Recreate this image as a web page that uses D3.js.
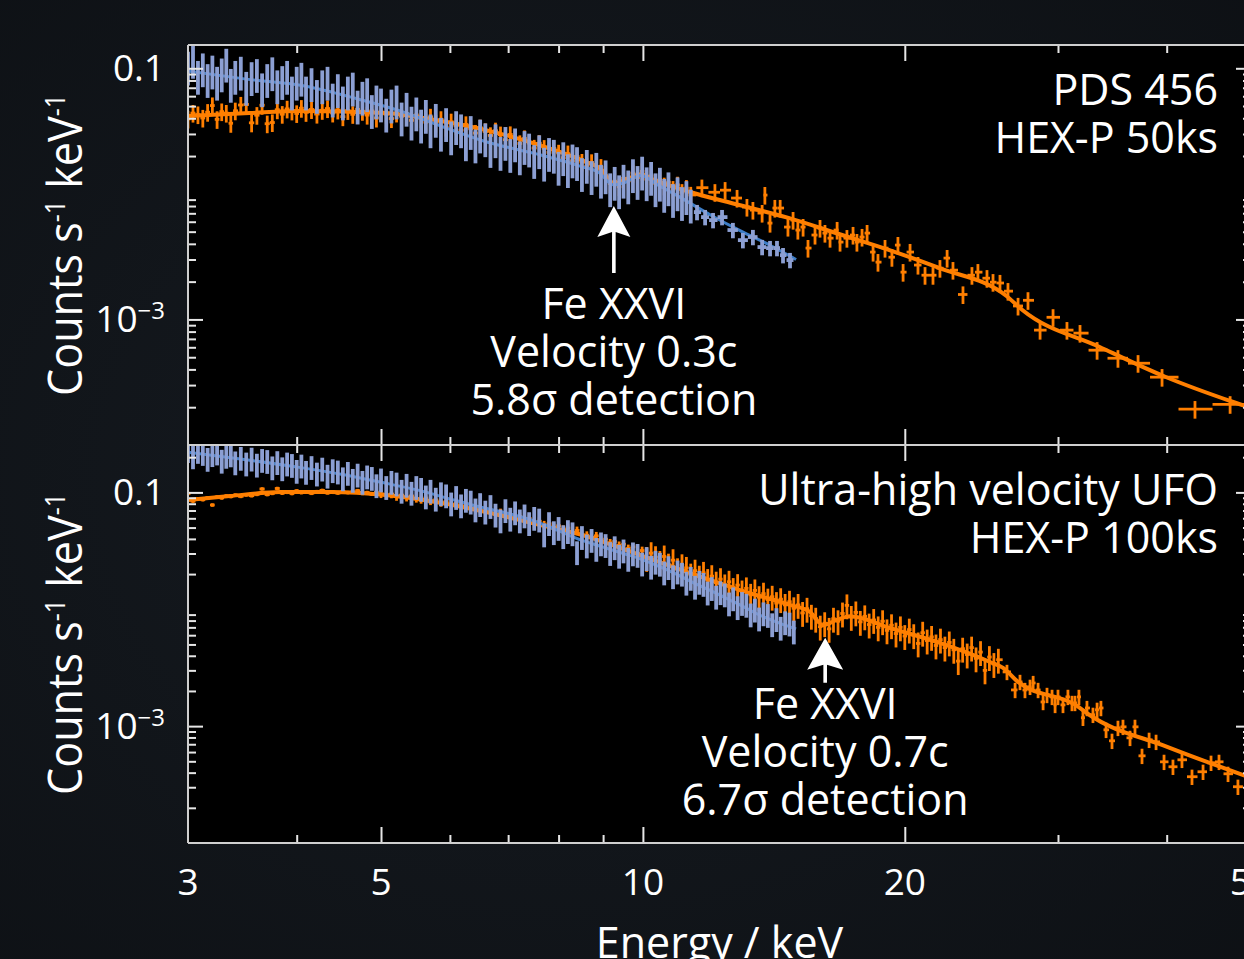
<!DOCTYPE html>
<html>
<head>
<meta charset="utf-8">
<script src="https://cdn.jsdelivr.net/npm/d3@7"></script>
<style>
  html, body { margin: 0; padding: 0; background: #101419; }
  svg { display: block; }
  text { font-family: "Open Sans", sans-serif; fill: #fff; }
</style>
</head>
<body>
<svg id="chart" width="1244" height="959"></svg>
<script>
// fine energy bins (keV) shared by the low-energy part of the spectra
var gridKeV = [3.00,3.04,3.08,3.12,3.16,3.20,3.24,3.28,3.32,3.36,
  3.40,3.45,3.50,3.55,3.60,3.65,3.70,3.75,3.80,3.85,
  3.90,3.95,4.00,4.05,4.10,4.16,4.22,4.28,4.34,4.40,
  4.46,4.52,4.58,4.64,4.70,4.76,4.82,4.88,4.94,5.00,
  5.07,5.14,5.21,5.28,5.35,5.42,5.49,5.56,5.63,5.70,
  5.78,5.86,5.94,6.02,6.10,6.18,6.26,6.34,6.42,6.50,
  6.59,6.68,6.77,6.86,6.95,7.04,7.13,7.22,7.31,7.40,
  7.50,7.60,7.70,7.80,7.90,8.00,8.10,8.20,8.30,8.40,
  8.51,8.62,8.73,8.84,8.95,9.06,9.17,9.28,9.39,9.50,
  9.62,9.74,9.86,9.98,10.10,10.22,10.34,10.46,10.58,10.70,
  10.83,10.96,11.09,11.22,11.35,11.48,11.61,11.74,11.87,12.00,
  12.14,12.28,12.42,12.56,12.70,12.85,13.00,13.15,13.30,13.45,
  13.60,13.76,13.92,14.08,14.24,14.40,14.57,14.74,14.91];

// PDS 456, HEX-P 50ks (counts s^-1 keV^-1)
var pdsBlueRate = [0.104,0.118,0.088,0.101,0.083,0.097,0.079,0.092,0.110,0.076,
  0.088,0.095,0.072,0.086,0.091,0.070,0.083,0.094,0.074,0.080,
  0.088,0.066,0.079,0.085,0.066,0.077,0.062,0.074,0.079,0.058,
  0.069,0.055,0.066,0.071,0.051,0.060,0.064,0.047,0.056,0.053,
  0.044,0.052,0.056,0.041,0.049,0.038,0.045,0.036,0.043,0.033,
  0.040,0.031,0.037,0.029,0.035,0.033,0.026,0.032,0.025,0.030,
  0.028,0.023,0.0275,0.0218,0.0262,0.021,0.0255,0.0201,0.0243,0.0232,
  0.0188,0.0225,0.0179,0.0214,0.0207,0.0166,0.0198,0.0159,0.0190,0.0181,
  0.0148,0.0172,0.0140,0.0163,0.0131,0.0142,0.0112,0.0126,0.0108,0.0131,
  0.0118,0.0145,0.0128,0.0152,0.0125,0.0138,0.0112,0.0124,0.0101,0.0114,
  0.0092,0.0104,0.0087,0.0097,0.0083];
var pdsBlueCoarse = [[11.54,0.00716],[11.79,0.00653],[12.04,0.00618],[12.33,0.00653],
  [12.69,0.00515],[13.03,0.00428],[13.38,0.00453],[13.71,0.00377],[14.00,0.00370],
  [14.26,0.00370],[14.49,0.00325],[14.76,0.00297]];
var pdsBlueModel = [[3,0.095],[3.5,0.082],[4.1,0.072],[4.7,0.057],[5.3,0.045],[5.9,0.034],
  [6.6,0.026],[7.5,0.021],[8.5,0.0165],[8.9,0.0148],[9.25,0.0118],[9.5,0.0122],[9.95,0.014],
  [10.4,0.0118],[11.0,0.0095],[12.0,0.0067],[13.0,0.0050],[14.0,0.0039],[15.0,0.0030]];
var pdsOrangeRate = [0.0395,0.0440,0.0428,0.0402,0.0447,0.0505,0.0392,0.0452,0.0440,0.0365,
  0.0459,0.0510,0.0515,0.0368,0.0423,0.0508,0.0362,0.0370,0.0468,0.0431,
  0.0475,0.0458,0.0437,0.0481,0.0446,0.0470,0.0432,0.0463,0.0478,0.0441,
  0.0466,0.0412,0.0462,0.0430,0.0471,0.0455,0.0424,0.0458,0.0402,0.0449,
  0.0431,0.0398,0.0441,0.0415,0.0436,0.0385,0.0425,0.0398,0.0372,0.0410,
  0.0366,0.0392,0.0341,0.0375,0.0349,0.0322,0.0357,0.0330,0.0305,0.0336,
  0.0314,0.0292,0.0318,0.0296,0.0270,0.0297,0.0275,0.0252,0.0276,0.0254,
  0.0232,0.0253,0.0231,0.0214,0.0230,0.0212,0.0194,0.0209,0.0183,0.0198,
  0.0179,0.0166,0.0178,0.0154,0.0163,0.0138,0.0121,0.0126,0.0114,0.0133,
  0.0127,0.0146,0.0135,0.0151,0.0131,0.0139,0.0121,0.0130,0.0116,0.0124,
  0.0109,0.0118,0.0103,0.0111,0.0098];
var pdsOrangeCoarse = [[11.69,0.0112],[12.10,0.0103],[12.43,0.0107],[12.83,0.00926],
  [13.17,0.00785],[13.38,0.00743],[13.71,0.00703],[13.81,0.00978],[14.00,0.00585],
  [14.18,0.00771],[14.38,0.00771],[14.68,0.00544],[14.88,0.00618],[15.07,0.00515],
  [15.28,0.00544],[15.48,0.0037],[15.77,0.0047],[15.98,0.00534],[16.19,0.00487],
  [16.41,0.00444],[16.72,0.00515],[16.85,0.00413],[17.16,0.00444],[17.44,0.0047],
  [17.62,0.00413],[17.86,0.00453],[18.10,0.00487],[18.39,0.00344],[18.63,0.00286],
  [18.98,0.0037],[19.33,0.00313],[19.64,0.00391],[19.91,0.00238],[20.28,0.00344],
  [20.71,0.00271],[21.10,0.00225],[21.55,0.00225],[21.95,0.00256],[22.37,0.00308],
  [22.72,0.00247],[23.33,0.00158],[23.89,0.00225],[24.27,0.00238],[24.86,0.00213],
  [25.26,0.00198],[25.73,0.00195],[26.28,0.00168],[26.99,0.00128],[27.71,0.00142],
  [28.61,0.000822],[29.61,0.00104],[30.72,0.000822],[31.80,0.000778],[33.27,0.000569],
  [35.16,0.000491],[37.08,0.000448],[39.51,0.000347],[43.11,0.000193],[47.31,0.000211]];
var pdsOrangeModel = [[3,0.0417],[3.53,0.0441],[4.03,0.0457],[5.06,0.0441],[5.77,0.0387],
  [6.6,0.0322],[7.53,0.0250],[8.6,0.0180],[8.95,0.0158],[9.26,0.0121],[9.6,0.0132],
  [9.95,0.0143],[10.3,0.0129],[11.3,0.0104],[12.9,0.00816],[14.7,0.00643],[16.8,0.00479],
  [19.2,0.00357],[21.9,0.00257],[26.2,0.00153],[27.3,0.00119],[33.5,0.000603],
  [39.9,0.000348],[47.7,0.000220],[50,0.000197]];

// ultra-high velocity UFO, HEX-P 100ks
var ufoBlueRate = [0.232,0.205,0.228,0.219,0.195,0.214,0.221,0.188,0.207,0.213,
  0.182,0.199,0.178,0.196,0.174,0.191,0.187,0.165,0.183,0.162,
  0.178,0.173,0.154,0.171,0.151,0.166,0.146,0.161,0.140,0.156,
  0.152,0.133,0.148,0.129,0.143,0.124,0.138,0.134,0.116,0.130,
  0.112,0.124,0.120,0.104,0.117,0.100,0.112,0.108,0.093,0.104,
  0.089,0.099,0.095,0.081,0.092,0.078,0.087,0.084,0.072,0.080,
  0.069,0.077,0.065,0.058,0.071,0.060,0.068,0.058,0.064,0.055,
  0.061,0.059,0.044,0.055,0.046,0.050,0.0425,0.047,0.045,0.0310,
  0.0418,0.0354,0.0395,0.0331,0.0369,0.0357,0.0305,0.0342,0.0289,0.0321,
  0.0272,0.0303,0.0294,0.0248,0.0276,0.0233,0.0257,0.0247,0.0208,0.0231,
  0.0193,0.0212,0.0203,0.0170,0.0187,0.0157,0.0173,0.0166,0.0140,0.0153,
  0.0129,0.0141,0.0135,0.0113,0.0125,0.0105,0.0114,0.0110,0.0091,0.0100,
  0.0084,0.0093,0.0090,0.0075,0.0083,0.0070,0.0078,0.0076,0.0065];
var ufoBlueModel = [[3,0.221],[3.5,0.19],[4,0.165],[4.5,0.143],[5,0.122],[5.5,0.105],
  [6,0.088],[6.5,0.075],[7,0.066],[7.5,0.057],[8,0.047],[8.5,0.039],[9,0.034],[9.5,0.030],
  [10,0.0265],[10.5,0.0228],[11,0.0195],[11.5,0.0165],[12,0.0143],[12.5,0.0123],
  [13,0.0107],[13.5,0.0092],[14,0.0082],[14.5,0.0074],[15,0.0068]];
var ufoOrangeRate = [0.0980,0.0842,0.0879,0.0866,0.0898,0.0780,0.0913,0.0897,0.0931,0.0921,
  0.0948,0.0925,0.0951,0.0937,0.0962,0.1070,0.0958,0.0981,0.1080,0.0985,
  0.1002,0.0978,0.1030,0.0995,0.1010,0.0983,0.1015,0.1040,0.0990,0.1012,
  0.0987,0.1021,0.0996,0.1008,0.1035,0.0979,0.0998,0.0965,0.1004,0.0972,
  0.0950,0.0968,0.0921,0.0948,0.0909,0.0932,0.0888,0.0870,0.0895,0.0846,
  0.0862,0.0820,0.0835,0.0788,0.0806,0.0765,0.0779,0.0733,0.0752,0.0704,
  0.0690,0.0702,0.0651,0.0672,0.0634,0.0645,0.0601,0.0622,0.0580,0.0597,
  0.0541,0.0566,0.0528,0.0539,0.0502,0.0518,0.0483,0.0495,0.0455,0.0472,
  0.0438,0.0430,0.0412,0.0425,0.0391,0.0398,0.0370,0.0381,0.0352,0.0360,
  0.0331,0.0342,0.0301,0.0318,0.0275,0.0302,0.0279,0.0254,0.0283,0.0241,
  0.0263,0.0220,0.0238,0.0226,0.0198,0.0214,0.0190,0.0205,0.0178,0.0192,
  0.0169,0.0181,0.0160,0.0172,0.0149,0.0161,0.0142,0.0151,0.0133,0.0145,
  0.0127,0.0136,0.0121,0.0128,0.0113,0.0122,0.0109,0.0116,0.0102];
var ufoOrangeExtraKeV = [15.08,15.26,15.44,15.62,15.80,15.99,16.18,16.37,16.56,16.76,
  16.96,17.16,17.36,17.57,17.78,17.99,18.20,18.42,18.64,18.86,
  19.08,19.31,19.54,19.77,20.00,20.24,20.48,20.72,20.97,21.22,
  21.47,21.72,21.98,22.24,22.50,22.77,23.04,23.31,23.59,23.87,
  24.15,24.44,24.73,25.02,25.32,25.62];
var ufoOrangeExtraRate = [0.0109,0.0093,0.0101,0.0088,0.0083,0.0071,0.0076,0.0068,0.0083,0.0079,
  0.0092,0.0108,0.0086,0.0094,0.0078,0.0087,0.0074,0.0081,0.0070,0.0079,
  0.0066,0.0073,0.0062,0.0070,0.0059,0.0067,0.0060,0.0051,0.0063,0.0054,
  0.0058,0.0049,0.0055,0.0047,0.0052,0.0045,0.0036,0.0046,0.0041,0.0047,
  0.0038,0.0043,0.0030,0.0039,0.0034,0.0037];
var ufoOrangeCoarse = [[26.21,0.00291],[26.78,0.00204],[27.13,0.00239],[27.49,0.00204],
  [27.86,0.00217],[28.09,0.00234],[28.46,0.00204],[28.84,0.00161],[29.14,0.00185],
  [29.53,0.00178],[29.77,0.00152],[30.0,0.00178],[30.40,0.00152],[30.80,0.00178],
  [31.13,0.00158],[31.38,0.00158],[31.71,0.00178],[32.05,0.00118],[32.39,0.00143],
  [32.91,0.00125],[33.27,0.00138],[33.61,0.00143],[34.07,0.00093],[34.61,0.000749],
  [35.16,0.000967],[35.63,0.000986],[36.30,0.000794],[36.78,0.000986],[37.47,0.000557],
  [38.18,0.000764],[38.89,0.000734],[39.72,0.000495],[40.67,0.000449],[41.65,0.000515],
  [42.77,0.000369],[44.04,0.000407],[44.98,0.000486],[45.94,0.000495],[47.05,0.000391],
  [48.30,0.000303]];
var ufoOrangeModel = [[3,0.0859],[3.35,0.093],[3.83,0.1006],[4.37,0.1006],[5.06,0.0948],
  [5.78,0.0826],[6.6,0.0679],[7.54,0.0536],[8.6,0.0423],[9.92,0.0291],[11.33,0.0204],
  [12.93,0.0146],[14.76,0.0109],[15.56,0.0095],[16.11,0.0073],[16.7,0.0081],[17.3,0.0087],
  [19.24,0.0069],[21.95,0.00515],[25.06,0.00354],[25.94,0.00315],[26.99,0.00239],
  [31.55,0.00149],[32.49,0.00127],[40.05,0.000665],[50,0.000361]];

// relative 1-sigma errors: [upper energy of band, fraction]
var pdsBlueErr = [[11.4,0.30],[60,0.14]];
var pdsOrangeErr = [[11.4,0.16],[60,0.16]];
var ufoBlueErr = [[60,0.23]];
var ufoOrangeErr = [[5,0.035],[10,0.08],[26,0.24],[60,0.15]];

var xTickMajor = [5, 10, 20, 50];
var xTickMinor = [4, 6, 7, 8, 9, 30, 40];
var xTickLabels = [3, 5, 10, 20, 50];
var yTickMajor = [0.1, 0.001];
var yMantissas = [2, 3, 4, 5, 6, 7, 8, 9];

var lineFeatures = [
  {panel: "pds", energy: 9.26, tipRate: 0.0080, lines: ["Fe XXVI", "Velocity 0.3c", "5.8σ detection"]},
  {panel: "ufo", energy: 16.2, tipRate: 0.0057, lines: ["Fe XXVI", "Velocity 0.7c", "6.7σ detection"]}
];

var orange = "#ff7f00", blueData = "#8c9fd3", blueModel = "#3d7dc6";
var frameColor = "#cfcfcf";

var left = 188, right = 1251;
var panels = [
  {id: "pds", top: 45, bottom: 445, yMax: 0.1533, title: ["PDS 456", "HEX-P 50ks"],
    blue: pdsBlueRate.map(function(v, i) { return [gridKeV[i], v]; }).concat(pdsBlueCoarse), blueErr: pdsBlueErr, blueModel: pdsBlueModel,
    orange: pdsOrangeRate.map(function(v, i) { return [gridKeV[i], v]; }).concat(pdsOrangeCoarse), orangeErr: pdsOrangeErr, orangeModel: pdsOrangeModel,
    arrow: {shaft: 67, head: 31, half: 16.5, textDy: 113}},
  {id: "ufo", top: 445, bottom: 843, yMax: 0.2544, title: ["Ultra-high velocity UFO", "HEX-P 100ks"],
    blue: ufoBlueRate.map(function(v, i) { return [gridKeV[i], v]; }), blueErr: ufoBlueErr, blueModel: ufoBlueModel,
    orange: ufoOrangeRate.map(function(v, i) { return [gridKeV[i], v]; })
      .concat(ufoOrangeExtraRate.map(function(v, i) { return [ufoOrangeExtraKeV[i], v]; }))
      .concat(ufoOrangeCoarse), orangeErr: ufoOrangeErr, orangeModel: ufoOrangeModel,
    arrow: {shaft: 45, head: 32, half: 18, textDy: 81}}
];

var x = d3.scaleLog().domain([3, 50]).range([left, right]);

var svg = d3.select("#chart");
var defs = svg.append("defs");
var bg = defs.append("radialGradient").attr("id", "bg").attr("cx", "45%").attr("cy", "50%").attr("r", "80%");
bg.append("stop").attr("offset", "0%").attr("stop-color", "#161b21");
bg.append("stop").attr("offset", "100%").attr("stop-color", "#0d1014");
svg.append("rect").attr("width", 1244).attr("height", 959).attr("fill", "url(#bg)");
svg.append("rect").attr("x", left).attr("y", 45).attr("width", right - left).attr("height", 843 - 45).attr("fill", "#000");

function errFor(bands, e) {
  for (var i = 0; i < bands.length; i++) if (e < bands[i][0]) return bands[i][1];
  return bands[bands.length - 1][1];
}

function binPoints(pairs, bands) {
  var pts = pairs.map(function(p) { return {e: p[0], v: p[1], r: errFor(bands, p[0])}; });
  pts.sort(function(a, b) { return a.e - b.e; });
  pts.forEach(function(p, i) {
    var prev = pts[i - 1], next = pts[i + 1];
    p.lo = prev ? Math.sqrt(prev.e * p.e) : p.e * p.e / Math.sqrt(p.e * next.e);
    p.hi = next ? Math.sqrt(next.e * p.e) : p.e * p.e / Math.sqrt(p.e * prev.e);
  });
  return pts;
}

// minWidth: horizontal bin bars narrower than this (px) are left out
function drawBins(g, pts, y, color, width, minWidth) {
  var s = g.append("g").attr("stroke", color).attr("stroke-width", width);
  s.selectAll(".v").data(pts).join("line").attr("class", "v")
    .attr("x1", function(d) { return x(d.e); })
    .attr("x2", function(d) { return x(d.e); })
    .attr("y1", function(d) { return y(d.v * (1 + d.r)); })
    .attr("y2", function(d) { return y(d.v * (1 - d.r)); });
  s.selectAll(".h").data(pts.filter(function(d) { return x(d.hi) - x(d.lo) >= minWidth; }))
    .join("line").attr("class", "h")
    .attr("x1", function(d) { return x(d.lo); })
    .attr("x2", function(d) { return x(d.hi); })
    .attr("y1", function(d) { return y(d.v); })
    .attr("y2", function(d) { return y(d.v); });
}

panels.forEach(function(p) {
  var y = d3.scaleLog().domain([1e-4, p.yMax]).range([p.bottom, p.top]);
  var line = d3.line()
    .x(function(d) { return x(d[0]); })
    .y(function(d) { return y(d[1]); })
    .curve(d3.curveMonotoneX);

  defs.append("clipPath").attr("id", "clip-" + p.id)
    .append("rect").attr("x", left).attr("y", p.top).attr("width", right - left).attr("height", p.bottom - p.top);
  var g = svg.append("g").attr("clip-path", "url(#clip-" + p.id + ")");

  drawBins(g, binPoints(p.orange, p.orangeErr), y, orange, 2.8, 0);
  g.append("path").datum(p.orangeModel).attr("d", line)
    .attr("fill", "none").attr("stroke", orange).attr("stroke-width", 4);
  g.append("path").datum(p.blueModel).attr("d", line)
    .attr("fill", "none").attr("stroke", blueModel).attr("stroke-width", 3);
  drawBins(g, binPoints(p.blue, p.blueErr), y, blueData, 3.8, 6);

  // ticks on all four sides, pointing inwards
  var minor = [];
  [-4, -3, -2, -1].forEach(function(k) {
    yMantissas.forEach(function(m) {
      var v = m * Math.pow(10, k);
      if (v > 1e-4 && v < p.yMax) minor.push(v);
    });
  });
  var axes = [
    {axis: d3.axisRight(y).tickValues(yTickMajor).tickSize(15), at: "translate(" + left + ",0)"},
    {axis: d3.axisRight(y).tickValues(minor).tickSize(8), at: "translate(" + left + ",0)"},
    {axis: d3.axisLeft(y).tickValues(yTickMajor).tickSize(15), at: "translate(" + right + ",0)"},
    {axis: d3.axisLeft(y).tickValues(minor).tickSize(8), at: "translate(" + right + ",0)"},
    {axis: d3.axisBottom(x).tickValues(xTickMajor).tickSize(16), at: "translate(0," + p.top + ")"},
    {axis: d3.axisBottom(x).tickValues(xTickMinor).tickSize(8), at: "translate(0," + p.top + ")"},
    {axis: d3.axisTop(x).tickValues(xTickMajor).tickSize(16), at: "translate(0," + p.bottom + ")"},
    {axis: d3.axisTop(x).tickValues(xTickMinor).tickSize(8), at: "translate(0," + p.bottom + ")"}
  ];
  axes.forEach(function(a) {
    var ag = svg.append("g").attr("transform", a.at).call(a.axis.tickFormat(""));
    ag.select(".domain").remove();
    ag.selectAll(".tick line").attr("stroke", "#e6e6e6").attr("stroke-width", 2);
  });

  // y tick labels
  yTickMajor.forEach(function(v) {
    var t = svg.append("text").attr("x", 165).attr("y", y(v) + 13)
      .attr("text-anchor", "end").style("font-size", "37px");
    if (v === 0.1) {
      t.text("0.1");
    } else {
      t.append("tspan").text("10");
      t.append("tspan").attr("dy", -13).style("font-size", "24px").text("−" + Math.round(-Math.log10(v)));
    }
  });

  // y axis title
  var yt = svg.append("text")
    .attr("transform", "translate(82," + (p.top + p.bottom) / 2 + ") rotate(-90)")
    .attr("text-anchor", "middle").style("font-size", "47px")
    .attr("textLength", 302).attr("lengthAdjust", "spacingAndGlyphs");
  yt.append("tspan").text("Counts s");
  yt.append("tspan").attr("dy", -17).style("font-size", "27px").text("-1");
  yt.append("tspan").attr("dy", 17).text(" keV");
  yt.append("tspan").attr("dy", -17).style("font-size", "27px").text("-1");

  // panel title
  p.title.forEach(function(s, i) {
    svg.append("text").attr("x", 1218).attr("y", p.top + 60 + i * 48)
      .attr("text-anchor", "end").style("font-size", "43px").text(s);
  });

  // Fe XXVI marker
  lineFeatures.filter(function(f) { return f.panel === p.id; }).forEach(function(f) {
    var a = p.arrow, tx = x(f.energy), ty = y(f.tipRate), w = 1.8;
    var d = "M" + tx + "," + ty +
      "L" + (tx + a.half) + "," + (ty + a.head) +
      "L" + (tx + w) + "," + (ty + a.head - 5) +
      "L" + (tx + w) + "," + (ty + a.shaft) +
      "L" + (tx - w) + "," + (ty + a.shaft) +
      "L" + (tx - w) + "," + (ty + a.head - 5) +
      "L" + (tx - a.half) + "," + (ty + a.head) + "Z";
    svg.append("path").attr("d", d).attr("fill", "#fff");
    f.lines.forEach(function(s, i) {
      svg.append("text").attr("x", tx).attr("y", ty + a.textDy + i * 48)
        .attr("text-anchor", "middle").style("font-size", "43px").text(s);
    });
  });
});

// frame
var frame = svg.append("g").attr("stroke", frameColor).attr("stroke-width", 2);
[45, 445, 843].forEach(function(yy) {
  frame.append("line").attr("x1", left).attr("x2", right).attr("y1", yy).attr("y2", yy);
});
frame.append("line").attr("x1", left).attr("x2", left).attr("y1", 45).attr("y2", 843);
frame.append("line").attr("x1", right).attr("x2", right).attr("y1", 45).attr("y2", 843);

// x tick labels and title
xTickLabels.forEach(function(v) {
  svg.append("text").attr("x", x(v)).attr("y", 895).attr("text-anchor", "middle")
    .style("font-size", "37px").text(v);
});
svg.append("text").attr("x", (left + right) / 2).attr("y", 958).attr("text-anchor", "middle")
  .style("font-size", "43px").text("Energy / keV");
</script>
</body>
</html>
